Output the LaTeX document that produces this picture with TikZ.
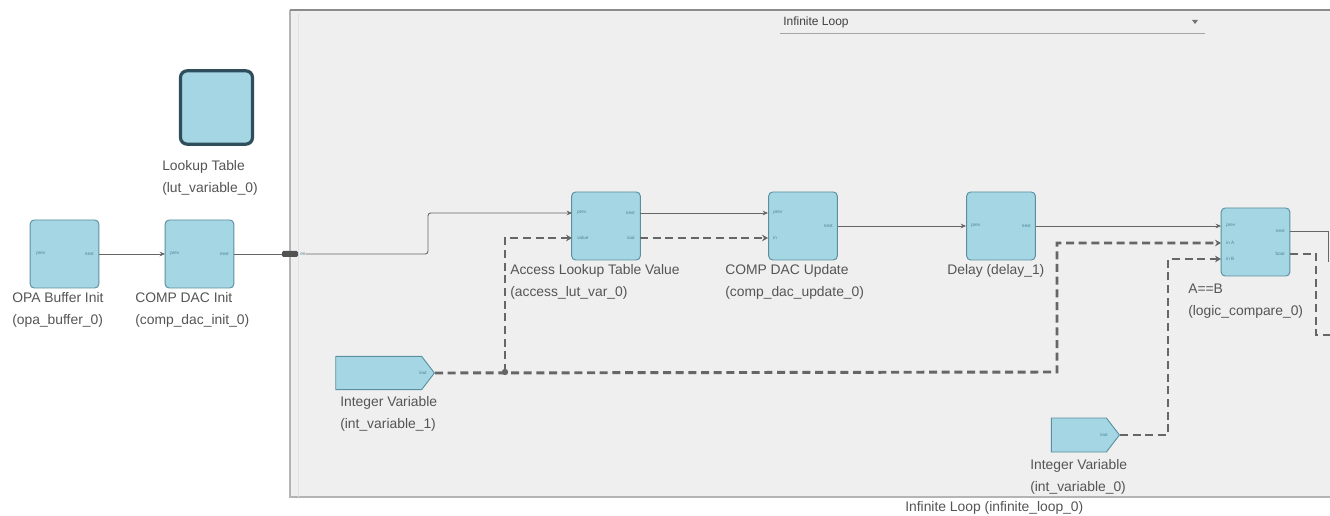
\documentclass[tikz,border=0pt]{standalone}
\usepackage{fontspec}
\setmainfont{Liberation Sans}
\usetikzlibrary{shapes.symbols,arrows.meta,calc}
\definecolor{boxfill}{HTML}{A5D6E4}
\definecolor{boxdraw}{HTML}{5A8FA0}
\definecolor{txt}{HTML}{555555}
\definecolor{porttxt}{HTML}{4F8596}
\definecolor{wire}{HTML}{666666}
\definecolor{dwire}{HTML}{666666}
\definecolor{loopbg}{HTML}{EFEFEF}
\definecolor{loopdraw}{HTML}{B4B4B4}
\definecolor{lutdraw}{HTML}{2E4E5C}
\begin{document}
\begin{tikzpicture}[x=0.75pt,y=-0.75pt,
 block/.style={draw=boxdraw,fill=boxfill,rounded corners=3pt,line width=0.7pt,minimum width=51.5pt,minimum height=51pt,inner sep=0pt},
 lbl/.style={anchor=north west,inner sep=0pt,align=left,text=txt,font=\fontsize{10.4}{16.5}\selectfont},
 port/.style={inner sep=0pt,text=porttxt,font=\fontsize{3.5}{4}\selectfont},
 wireS/.style={draw=wire,line width=0.7pt,-{Stealth[length=4pt,width=3.5pt]}},
 wireP/.style={draw=wire,line width=0.7pt},
 wireD/.style={draw=dwire,line width=2.2pt,dash pattern=on 6pt off 3.5pt,-{Stealth[length=4.5pt,width=5pt]}},
 var/.style={signal,signal to=east,signal pointer angle=105,draw=boxdraw,fill=boxfill,line width=0.7pt,inner sep=0pt}]

\useasboundingbox (0,0) rectangle (1330,516);
\fill[white] (0,0) rectangle (1330,516);

% container
\fill[loopbg] (290,10) rectangle (1335,497);
\draw[loopdraw,line width=0.8pt] (1335,497) -- (290,497) -- (290,10);
\draw[black!45,line width=1.1pt] (290,10) -- (1335,10);
\draw[black!12,line width=0.5pt] (298,14) -- (298,497);

% header
\node[anchor=west,inner sep=0pt,text=black!75,font=\fontsize{9}{10}\selectfont] (hdr) at (783,22) {Infinite Loop};
\draw[black!35,line width=0.5pt] (780,33) -- (1205,33);
\fill[black!55] (1192,20) -- (1198,20) -- (1195,24) -- cycle;

% blocks
\node[block] (opa) at (64.5,254) {};
\node[block] (ci) at (199.5,254) {};
\node[block] (acc) at (606,226) {};
\node[block] (upd) at (803,226) {};
\node[block] (dly) at (1001,226) {};
\node[block] (cmp) at (1255.5,242) {};
\node[draw=lutdraw,fill=boxfill,line width=2.4pt,rounded corners=5pt,minimum width=54pt,minimum height=55pt,inner sep=0pt] (lut) at (216.5,107.5) {};
\node[var,minimum width=74pt,minimum height=25pt,anchor=east] (iv1) at (435,373) {};
\node[var,minimum width=51pt,minimum height=25.5pt,anchor=east] (iv0) at (1120,435) {};
\node[fill=wire!80!black,minimum width=12pt,minimum height=4.5pt,inner sep=0pt,rounded corners=1pt] (lport) at (290,254) {};
\node[port,anchor=west] (enl) at (300,254) {en};

% port coordinates
\coordinate (opa-next) at (99,254);
\coordinate (ci-prev) at (165,254);
\coordinate (ci-next) at (234,254);
\coordinate (acc-prev) at (572,213);
\coordinate (acc-value) at (572,238);
\coordinate (acc-next) at (640,213);
\coordinate (acc-out) at (640,238);
\coordinate (upd-prev) at (768,213);
\coordinate (upd-in) at (768,238);
\coordinate (upd-next) at (838,226);
\coordinate (dly-prev) at (966,226);
\coordinate (dly-next) at (1036,226);
\coordinate (cmp-prev) at (1221,226);
\coordinate (cmp-inA) at (1221,243);
\coordinate (cmp-inB) at (1221,259);
\coordinate (cmp-next) at (1290,231);
\coordinate (cmp-bout) at (1290,254);
\coordinate (j1) at (505,372);

% port labels
\node[port,anchor=west] at (36,254) {prev};
\node[port,anchor=east] at (94,254) {next};
\node[port,anchor=west] at (170,254) {prev};
\node[port,anchor=east] at (229,254) {next};
\node[port,anchor=west] at (577,213) {prev};
\node[port,anchor=west] at (577,238) {value};
\node[port,anchor=east] at (635,213) {next};
\node[port,anchor=east] at (635,238) {iout};
\node[port,anchor=west] at (773,213) {prev};
\node[port,anchor=west] at (773,238) {in};
\node[port,anchor=east] at (833,226) {next};
\node[port,anchor=west] at (971,226) {prev};
\node[port,anchor=east] at (1031,226) {next};
\node[port,anchor=west] at (1226,226) {prev};
\node[port,anchor=west] at (1226,243) {in A};
\node[port,anchor=west] at (1226,259) {in B};
\node[port,anchor=east] at (1285,231) {next};
\node[port,anchor=east] at (1285,254) {bout};
\node[port,anchor=east] at (427,373) {iout};
\node[port,anchor=east] at (1108,435) {iout};

% labels
\node[lbl] (opal) at (12,292) {OPA Buffer Init\\(opa\_buffer\_0)};
\node[lbl] (cil) at (135,292) {COMP DAC Init\\(comp\_dac\_init\_0)};
\node[lbl] (lutl) at (162,160) {Lookup Table\\(lut\_variable\_0)};
\node[lbl] (accl) at (510,264) {Access Lookup Table Value\\(access\_lut\_var\_0)};
\node[lbl] (updl) at (725,264) {COMP DAC Update\\(comp\_dac\_update\_0)};
\node[lbl] (dlyl) at (947,264) {Delay (delay\_1)};
\node[lbl] (cmpl) at (1188,284) {A==B\\(logic\_compare\_0)};
\node[lbl] (iv1l) at (340,396) {Integer Variable\\(int\_variable\_1)};
\node[lbl] (iv0l) at (1030,459) {Integer Variable\\(int\_variable\_0)};
\node[lbl] (loopl) at (905,501) {Infinite Loop (infinite\_loop\_0)};

% wires
\draw[wireS] (opa-next) -- (ci-prev);
\draw[wireP] (ci-next) -- (lport.west);
\draw[wireS,rounded corners=2pt] (enl.east) -- (428,254) -- (428,213) -- (acc-prev);
\draw[wireS] (acc-next) -- (upd-prev);
\draw[wireD] (acc-out) -- (upd-in);
\draw[wireS] (upd-next) -- (dly-prev);
\draw[wireS] (dly-next) -- (cmp-prev);
\draw[wireP] (cmp-next) -- (1328,231) -- (1328,262);
\draw[wireD,-] (cmp-bout) -- (1316,254) -- (1316,335) -- (1332,335);
\draw[wireD] (iv1.east) -- (1057,372) -- (1057,243) -- (cmp-inA);
\draw[wireD] (j1) -- (505,238) -- (acc-value);
\draw[wireD] (iv0.east) -- (1168,435) -- (1168,259) -- (cmp-inB);
\fill[dwire] (j1) circle[radius=2.4pt];
\end{tikzpicture}
\end{document}
